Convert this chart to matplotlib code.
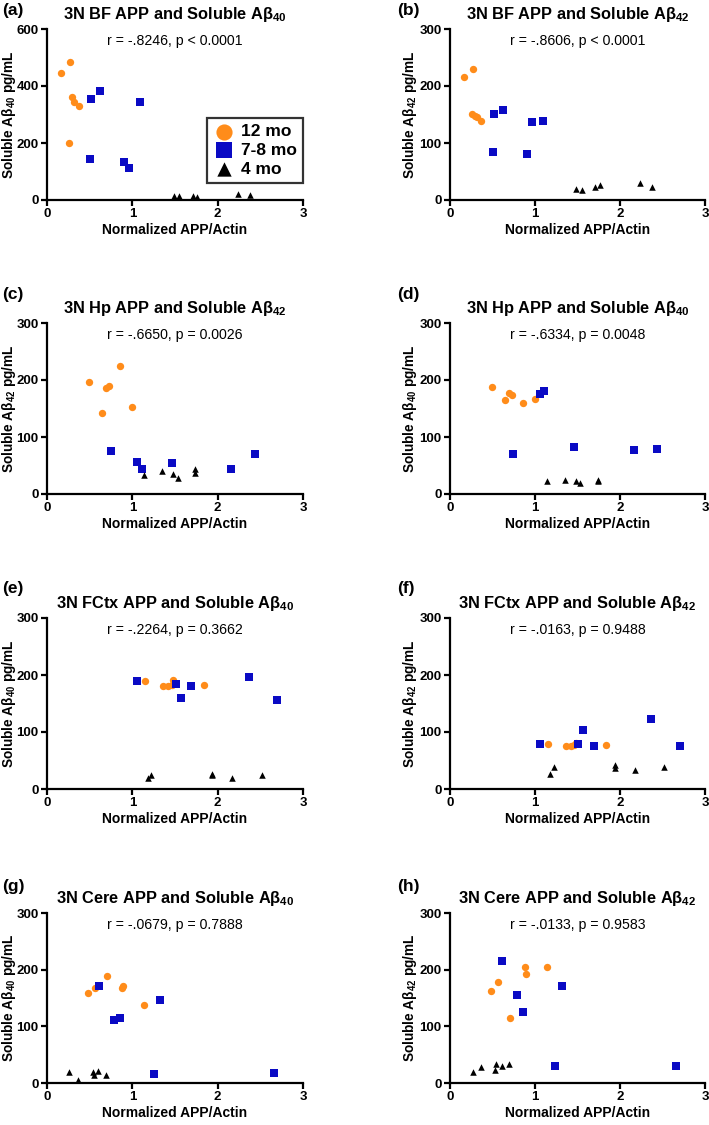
"""
3N APP vs soluble Abeta scatter panels
"""

# %%
# Imports
import matplotlib
matplotlib.use("Agg")
import matplotlib.pyplot as plt

plt.rcParams["font.family"] = ["Liberation Sans", "DejaVu Sans"]
plt.rcParams["mathtext.fontset"] = "custom"
plt.rcParams["mathtext.rm"] = "Liberation Sans"
plt.rcParams["mathtext.bf"] = "Liberation Sans:bold"

# %%
# Data (x = normalized APP/Actin, y = pg/mL)
groups = ["12 mo", "7-8 mo", "4 mo"]

# (a) BF Abeta40
a_12_x = [0.16, 0.27, 0.29, 0.32, 0.37, 0.26]
a_12_y = [447, 484, 360, 344, 330, 200]
a_78_x = [0.52, 0.62, 1.09, 0.505, 0.90, 0.96]
a_78_y = [354, 384, 344, 144, 132, 111]
a_4_x = [1.49, 1.55, 1.71, 1.76, 2.24, 2.38]
a_4_y = [13, 14, 13, 12, 21, 18]

# (b) BF Abeta42
b_12_x = [0.16, 0.27, 0.26, 0.29, 0.32, 0.37]
b_12_y = [215, 229, 150, 147, 145, 139]
b_78_x = [0.52, 0.62, 0.96, 1.09, 0.505, 0.90]
b_78_y = [150, 158, 136, 139, 84, 80]
b_4_x = [1.48, 1.55, 1.71, 1.77, 2.24, 2.38]
b_4_y = [19, 18, 22, 26, 29, 22]

# (c) Hp Abeta42
c_12_x = [0.49, 0.69, 0.73, 0.86, 0.65, 1.00]
c_12_y = [196, 186, 190, 224, 142, 152]
c_78_x = [0.745, 1.055, 1.11, 1.46, 2.16, 2.44]
c_78_y = [76, 57, 43, 54, 44, 70]
c_4_x = [1.14, 1.35, 1.48, 1.53, 1.74, 1.74]
c_4_y = [33, 41, 35, 28, 43, 36]

# (d) Hp Abeta40
d_12_x = [0.49, 0.65, 0.69, 0.73, 0.86, 1.00]
d_12_y = [187, 165, 177, 174, 159, 167]
d_78_x = [0.745, 1.055, 1.11, 1.46, 2.16, 2.44]
d_78_y = [70, 175, 180, 82, 77, 79]
d_4_x = [1.14, 1.35, 1.48, 1.53, 1.74, 1.74]
d_4_y = [23, 25, 22, 20, 24, 23]

# (e) FCtx Abeta40
e_12_x = [1.15, 1.36, 1.42, 1.46, 1.48, 1.84]
e_12_y = [190, 180, 180, 182, 191, 182]
e_78_x = [1.06, 1.51, 1.565, 1.69, 2.37, 2.70]
e_78_y = [189, 184, 159, 181, 197, 156]
e_4_x = [1.18, 1.22, 1.93, 1.93, 2.17, 2.52]
e_4_y = [20, 24, 26, 24, 20, 24]

# (f) FCtx Abeta42
f_12_x = [1.15, 1.36, 1.42, 1.46, 1.48, 1.84]
f_12_y = [79, 76, 76, 78, 80, 77]
f_78_x = [1.06, 1.51, 1.565, 1.69, 2.37, 2.70]
f_78_y = [79, 79, 104, 76, 123, 75]
f_4_x = [1.18, 1.22, 1.94, 1.94, 2.18, 2.52]
f_4_y = [26, 39, 42, 36, 34, 38]

# (g) Cere Abeta40
g_12_x = [0.48, 0.565, 0.70, 0.88, 0.89, 1.14]
g_12_y = [159, 168, 189, 168, 171, 138]
g_78_x = [0.61, 0.79, 0.86, 1.32, 1.25, 2.66]
g_78_y = [172, 112, 114, 146, 16, 17]
g_4_x = [0.26, 0.365, 0.54, 0.545, 0.60, 0.69]
g_4_y = [20, 6, 20, 14, 22, 15]

# (h) Cere Abeta42
h_12_x = [0.48, 0.57, 0.885, 0.89, 1.14, 0.70]
h_12_y = [163, 178, 204, 193, 205, 115]
h_78_x = [0.61, 0.79, 0.86, 1.32, 1.24, 2.655]
h_78_y = [215, 155, 126, 172, 30, 30]
h_4_x = [0.27, 0.365, 0.54, 0.535, 0.61, 0.69]
h_4_y = [19, 29, 33, 23, 30, 33]

titles = [
    "3N BF APP and Soluble Aβ$_{\\mathbf{40}}$",
    "3N BF APP and Soluble Aβ$_{\\mathbf{42}}$",
    "3N Hp APP and Soluble Aβ$_{\\mathbf{42}}$",
    "3N Hp APP and Soluble Aβ$_{\\mathbf{40}}$",
    "3N FCtx APP and Soluble Aβ$_{\\mathbf{40}}$",
    "3N FCtx APP and Soluble Aβ$_{\\mathbf{42}}$",
    "3N Cere APP and Soluble Aβ$_{\\mathbf{40}}$",
    "3N Cere APP and Soluble Aβ$_{\\mathbf{42}}$",
]
stats = [
    "r = -.8246, p < 0.0001",
    "r = -.8606, p < 0.0001",
    "r = -.6650, p = 0.0026",
    "r = -.6334, p = 0.0048",
    "r = -.2264, p = 0.3662",
    "r = -.0163, p = 0.9488",
    "r = -.0679, p = 0.7888",
    "r = -.0133, p = 0.9583",
]
peptides = ["40", "42", "42", "40", "40", "42", "40", "42"]
letters = ["a", "b", "c", "d", "e", "f", "g", "h"]
ymax = [600, 300, 300, 300, 300, 300, 300, 300]

series = [
    [(a_12_x, a_12_y), (a_78_x, a_78_y), (a_4_x, a_4_y)],
    [(b_12_x, b_12_y), (b_78_x, b_78_y), (b_4_x, b_4_y)],
    [(c_12_x, c_12_y), (c_78_x, c_78_y), (c_4_x, c_4_y)],
    [(d_12_x, d_12_y), (d_78_x, d_78_y), (d_4_x, d_4_y)],
    [(e_12_x, e_12_y), (e_78_x, e_78_y), (e_4_x, e_4_y)],
    [(f_12_x, f_12_y), (f_78_x, f_78_y), (f_4_x, f_4_y)],
    [(g_12_x, g_12_y), (g_78_x, g_78_y), (g_4_x, g_4_y)],
    [(h_12_x, h_12_y), (h_78_x, h_78_y), (h_4_x, h_4_y)],
]

# %%
# Styles per age group
colors = ["#FF8C1A", "#0A0AC4", "black"]
markers = ["o", "s", "^"]
sizes = [28, 30, 22]

W, H = 709, 1125
fig = plt.figure(figsize=(W / 100, H / 100), dpi=100)

# axes boxes in pixels
col_px = [(47, 303), (450, 705)]
row_px = [(29, 200), (323, 494), (618, 789), (913, 1083)]
letter_x = [2, 397]
letter_y = [10, 295, 589, 887]
ylabel_x = [-0.148, -0.157]

for i in range(8):
    r, c = divmod(i, 2)
    x0, x1 = col_px[c]
    t, b = row_px[r]
    ax = fig.add_axes([x0 / W, 1 - b / H, (x1 - x0) / W, (b - t) / H])

    for (xs, ys), col, mk, s, lab in zip(series[i], colors, markers, sizes, groups):
        ax.scatter(xs, ys, s=s, c=col, marker=mk, linewidths=0,
                   clip_on=False, zorder=3, label=lab)

    ax.set_xlim(0, 3)
    ax.set_ylim(0, ymax[i])
    ax.set_xticks([0, 1, 2, 3])
    ax.set_yticks(range(0, ymax[i] + 1, ymax[i] // 3))
    for side in ["top", "right"]:
        ax.spines[side].set_visible(False)
    for side in ["left", "bottom"]:
        ax.spines[side].set_linewidth(1.6)
    ax.tick_params(direction="out", length=4, width=1.6, labelsize=9.5, pad=2)
    for lbl in ax.get_xticklabels() + ax.get_yticklabels():
        lbl.set_fontweight("bold")

    ax.set_xlabel("Normalized APP/Actin", fontsize=10, fontweight="bold", labelpad=2)
    ax.set_ylabel("Soluble Aβ$_{\\mathbf{%s}}$ pg/mL" % peptides[i],
                  fontsize=9.8, fontweight="bold", va="center")
    ax.yaxis.set_label_coords(ylabel_x[c], 0.5)
    ax.set_title(titles[i], fontsize=11.8, fontweight="bold", pad=7)
    ax.text(0.5, 0.932, stats[i], transform=ax.transAxes, ha="center",
            va="center", fontsize=10.2)

    fig.text(letter_x[c] / W, 1 - letter_y[r] / H, "(%s)" % letters[i],
             fontsize=12.5, fontweight="bold", ha="left", va="center")

    if i == 0:
        leg = ax.legend(loc="center right", bbox_to_anchor=(1.0, 0.29),
                        borderaxespad=0, frameon=True, fancybox=False,
                        markerscale=2.2, handletextpad=0.4, labelspacing=0.2,
                        borderpad=0.35, handlelength=1.2,
                        prop={"weight": "bold", "size": 12.5})
        leg.get_frame().set_edgecolor("black")
        leg.get_frame().set_linewidth(1.6)

fig.savefig("out.png", dpi=100)
